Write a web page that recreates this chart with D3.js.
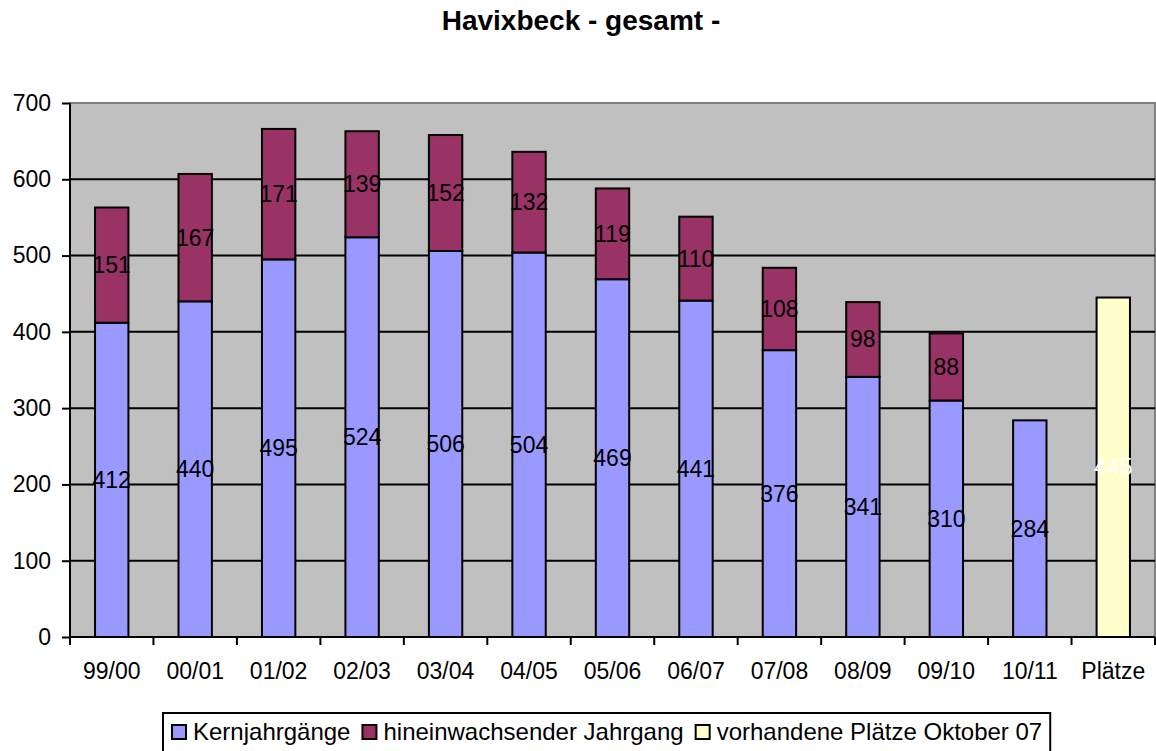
<!DOCTYPE html>
<html>
<head>
  <meta charset="utf-8">
  <title>Havixbeck - gesamt -</title>
  <script src="https://d3js.org/d3.v7.min.js"></script>
  <style>
    body { margin: 0; background: #fff; }
    text { font-family: "Liberation Sans", Arial, sans-serif; }
  </style>
</head>
<body>
<script>
// data
var categories = ["99/00", "00/01", "01/02", "02/03", "03/04", "04/05", "05/06", "06/07", "07/08", "08/09", "09/10", "10/11", "Plätze"];
var kern = [412, 440, 495, 524, 506, 504, 469, 441, 376, 341, 310, 284, 0];
var hinein = [151, 167, 171, 139, 152, 132, 119, 110, 108, 98, 88, 0, 0];
var plaetze = [0, 0, 0, 0, 0, 0, 0, 0, 0, 0, 0, 0, 445];
var seriesNames = ["Kernjahrgänge", "hineinwachsender Jahrgang", "vorhandene Plätze Oktober 07"];
var seriesColors = ["#9999ff", "#993366", "#ffffcc"];
var labelColors = ["#000", "#000", "#fff"];
var yTicks = [0, 100, 200, 300, 400, 500, 600, 700];

var w = 1156, h = 751;
var mLeft = 70, mRight = 1155, mTop = 103, mBottom = 637;

var svg = d3.select("body").append("svg")
  .attr("width", w)
  .attr("height", h);

var x = d3.scaleBand()
  .domain(categories)
  .range([mLeft, mRight])
  .paddingInner(0.6)
  .paddingOuter(0.3);

var xb = d3.scaleBand().domain(categories).range([mLeft, mRight]);

var y = d3.scaleLinear()
  .domain([0, 700])
  .range([mBottom, mTop]);

// title
svg.append("text")
  .attr("x", 581)
  .attr("y", 30)
  .attr("text-anchor", "middle")
  .style("font-size", "28px")
  .style("font-weight", "bold")
  .text("Havixbeck - gesamt -");

// plot background
svg.append("rect")
  .attr("x", mLeft)
  .attr("y", mTop)
  .attr("width", mRight - mLeft)
  .attr("height", mBottom - mTop)
  .attr("fill", "#c0c0c0")
  .attr("stroke", "#808080")
  .attr("stroke-width", 2);

// gridlines
svg.selectAll("line.grid")
  .data(yTicks.filter(function(d) { return d > 0 && d < 700; }))
  .enter().append("line")
  .attr("class", "grid")
  .attr("x1", mLeft).attr("x2", mRight)
  .attr("y1", function(d) { return y(d); })
  .attr("y2", function(d) { return y(d); })
  .attr("stroke", "#000")
  .attr("stroke-width", 2);

// stacked bars
var stackData = categories.map(function(c, i) {
  return { cat: c, a: kern[i], b: hinein[i], c: plaetze[i] };
});
var layers = d3.stack().keys(["a", "b", "c"])(stackData);

layers.forEach(function(layer, k) {
  var vis = layer.filter(function(d) { return d[1] - d[0] > 0; });
  var g = svg.append("g");
  g.selectAll("rect")
    .data(vis)
    .enter().append("rect")
    .attr("x", function(d) { return x(d.data.cat); })
    .attr("y", function(d) { return y(d[1]); })
    .attr("width", x.bandwidth())
    .attr("height", function(d) { return y(d[0]) - y(d[1]); })
    .attr("fill", seriesColors[k])
    .attr("stroke", "#000")
    .attr("stroke-width", 2);
  g.selectAll("text")
    .data(vis)
    .enter().append("text")
    .attr("x", function(d) { return x(d.data.cat) + x.bandwidth() / 2; })
    .attr("y", function(d) { return (y(d[0]) + y(d[1])) / 2 + 8; })
    .attr("text-anchor", "middle")
    .attr("fill", labelColors[k])
    .style("font-size", "23px")
    .text(function(d) { return d[1] - d[0]; });
});

// y axis
var yAxis = d3.axisLeft(y).tickValues(yTicks).tickSize(8).tickPadding(11);
var ya = svg.append("g")
  .attr("transform", "translate(" + mLeft + ",0)")
  .call(yAxis);
ya.select(".domain").attr("stroke-width", 2).attr("d", "M0," + mTop + "V" + mBottom);
ya.selectAll(".tick line").attr("stroke-width", 2);
ya.selectAll(".tick text").style("font-size", "23px").attr("fill", "#000")
  .style("font-family", "Liberation Sans, Arial, sans-serif");

// x axis line and ticks at band boundaries
svg.append("line")
  .attr("x1", mLeft).attr("x2", mRight)
  .attr("y1", mBottom).attr("y2", mBottom)
  .attr("stroke", "#000").attr("stroke-width", 2);
var bounds = categories.map(function(c) { return xb(c); }).concat([mRight]);
svg.selectAll("line.xtick")
  .data(bounds)
  .enter().append("line")
  .attr("class", "xtick")
  .attr("x1", function(d) { return d; }).attr("x2", function(d) { return d; })
  .attr("y1", mBottom).attr("y2", mBottom + 8)
  .attr("stroke", "#000").attr("stroke-width", 2);
svg.selectAll("text.xlab")
  .data(categories)
  .enter().append("text")
  .attr("class", "xlab")
  .attr("x", function(d) { return xb(d) + xb.bandwidth() / 2; })
  .attr("y", 679)
  .attr("text-anchor", "middle")
  .style("font-size", "23px")
  .text(function(d) { return d; });

// legend, laid out item by item
var legend = svg.append("g");
var box = legend.append("rect")
  .attr("x", 163).attr("y", 713)
  .attr("height", 50)
  .attr("fill", "#fff")
  .attr("stroke", "#000")
  .attr("stroke-width", 2);
var lx = 172;
seriesNames.forEach(function(name, i) {
  legend.append("rect")
    .attr("x", lx).attr("y", 725)
    .attr("width", 14).attr("height", 14)
    .attr("fill", seriesColors[i])
    .attr("stroke", "#000")
    .attr("stroke-width", 2);
  var t = legend.append("text")
    .attr("x", lx + 21).attr("y", 740)
    .style("font-size", "24px")
    .text(name);
  lx = lx + 21 + t.node().getComputedTextLength() + 12;
});
box.attr("width", lx - 4 - 163);
</script>
</body>
</html>
